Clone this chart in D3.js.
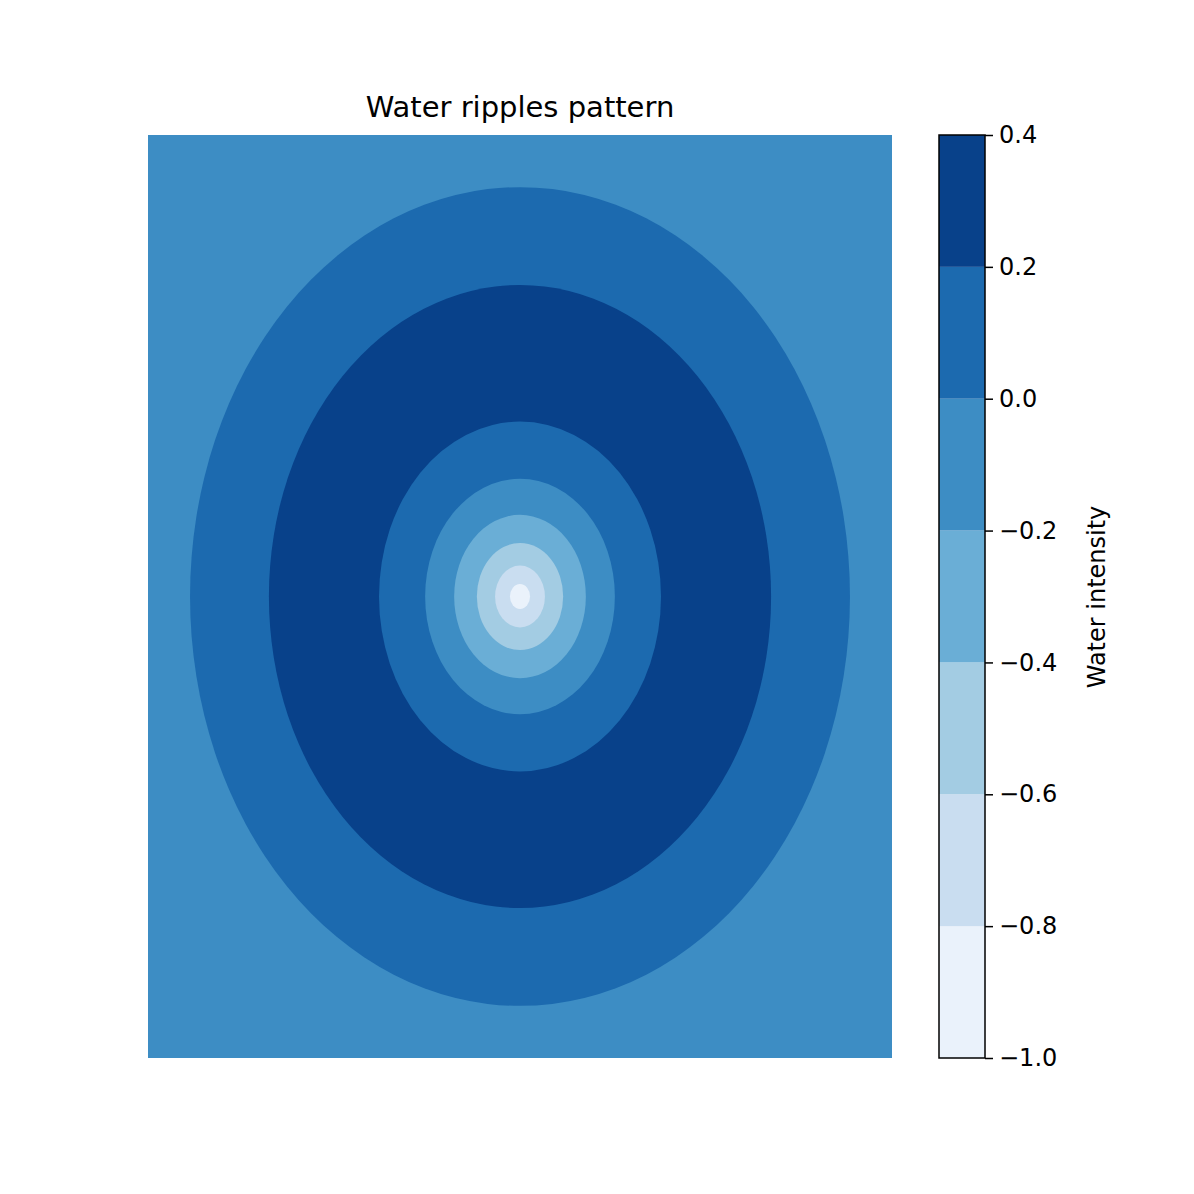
<!DOCTYPE html>
<html><head><meta charset="utf-8">
<script src="https://cdn.jsdelivr.net/npm/d3@7"></script>
<style>body{margin:0;background:#fff}</style></head>
<body><svg id="c" width="1194" height="1194"></svg>
<script>
// contour levels and colours (Blues)
const levels = [-1.0, -0.8, -0.6, -0.4, -0.2, 0.0, 0.2, 0.4];
const bandColors = ["#eaf2fb", "#c9ddf0", "#a3cce3", "#6aaed6", "#3d8dc4", "#1c6aaf", "#08418a"];
// radial boundaries (data units), outermost first, with band index inside each
const ringRadii = [8.87, 6.75, 3.79, 2.55, 1.77, 1.16, 0.67, 0.27];
const ringBand  = [5, 6, 5, 4, 3, 2, 1, 0];
const backgroundBand = 4;
const tickLabels = ["−1.0","−0.8","−0.6","−0.4","−0.2","0.0","0.2","0.4"];

const svg = d3.select("#c");
const font = "DejaVu Sans, sans-serif";
const x = d3.scaleLinear().domain([-10, 10]).range([148, 892]);
const y = d3.scaleLinear().domain([-10, 10]).range([1058, 135]);

svg.append("clipPath").attr("id","clip").append("rect")
  .attr("x",148).attr("y",135).attr("width",744).attr("height",923);
const g = svg.append("g").attr("clip-path","url(#clip)");
g.append("rect").attr("x",148).attr("y",135).attr("width",744).attr("height",923)
  .attr("fill", bandColors[backgroundBand]);
g.selectAll("ellipse").data(ringRadii).join("ellipse")
  .attr("cx", x(0)).attr("cy", y(0))
  .attr("rx", d => x(d) - x(0)).attr("ry", d => y(0) - y(d))
  .attr("fill", (d,i) => bandColors[ringBand[i]]);

svg.append("text").attr("x",520).attr("y",117).attr("text-anchor","middle")
  .attr("font-family",font).attr("font-size",29).text("Water ripples pattern");

// colorbar
const cy = d3.scaleLinear().domain([-1, 0.4]).range([1058, 135]);
const cb = svg.append("g");
cb.selectAll("rect").data(bandColors).join("rect")
  .attr("x",939).attr("width",46)
  .attr("y",(d,i)=>cy(levels[i+1])).attr("height",(d,i)=>cy(levels[i])-cy(levels[i+1]))
  .attr("fill",d=>d);
cb.append("rect").attr("x",939).attr("y",135).attr("width",46).attr("height",923)
  .attr("fill","none").attr("stroke","#000").attr("stroke-width",1.5);
const axis = d3.axisRight(cy).tickValues(levels).tickFormat((d,i)=>tickLabels[i]).tickSize(8).tickPadding(6);
const ag = svg.append("g").attr("transform","translate(985,0)").call(axis);
ag.select(".domain").remove();
ag.selectAll("line").attr("stroke-width",1.5);
ag.selectAll("text").attr("font-family",font).attr("font-size",24);
svg.append("text").attr("transform","translate(1105,597) rotate(-90)").attr("text-anchor","middle")
  .attr("font-family",font).attr("font-size",24).text("Water intensity");
</script></body></html>
